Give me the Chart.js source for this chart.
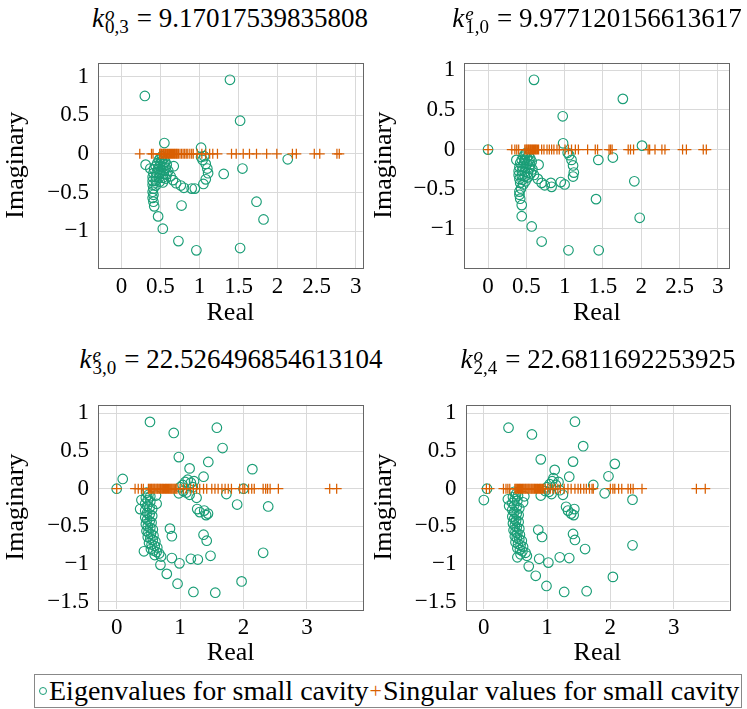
<!DOCTYPE html>
<html>
<head>
<meta charset="utf-8">
<script src="https://cdn.jsdelivr.net/npm/chart.js@4/dist/chart.umd.min.js"></script>
<style>
  body { margin: 0; background: #fff; width: 747px; height: 709px; position: relative; overflow: hidden; font-family: "Liberation Serif", serif; color: #000; }
  canvas { position: absolute; }
  .ttl { position: absolute; font-size: 27px; line-height: 27px; white-space: nowrap; transform: translateX(-50%); }
  .ttl .k { font-style: italic; }
  .sc { display: inline-block; vertical-align: -6px; font-size: 19px; line-height: 13px; margin-left: 1px; margin-right: 8px; }
  .sc span { display: block; }
  .sc .up { font-style: italic; }
  .legend { position: absolute; left: 34px; top: 674px; width: 706px; height: 32px; border: 1px solid #888; display: flex; align-items: center; font-size: 28px; white-space: nowrap; }
  .mk-c { display: inline-block; width: 6px; height: 6px; border: 1.2px solid #1b9e77; border-radius: 50%; margin: 0 2px 0 4px; }
  .mk-p { color: #d95f02; font-size: 22px; margin: 0 1px 0 1px; }
</style>
</head>
<body>
<canvas id="p1" width="373" height="292" style="left:0;top:40px"></canvas>
<canvas id="p2" width="379" height="292" style="left:368px;top:40px"></canvas>
<canvas id="p3" width="373" height="290" style="left:0;top:382px"></canvas>
<canvas id="p4" width="379" height="290" style="left:368px;top:382px"></canvas>
<div id="titles"></div>
<div class="legend">
  <span class="mk-c"></span><span>Eigenvalues for small cavity</span><span class="mk-p">+</span><span>Singular values for small cavity</span>
</div>
<script>
// ============ DATA ============
const GREEN = '#1b9e77';
const ORANGE = '#d95f02';

const titleSup = ['o', 'e', 'e', 'o'];
const titleSub = ['0,3', '1,0', '3,0', '2,4'];
const titleVal = ['9.17017539835808', '9.977120156613617', '22.526496854613104', '22.6811692253925'];

const xTicksTop = [0, 0.5, 1, 1.5, 2, 2.5, 3];
const yTicksTop = [-1, -0.5, 0, 0.5, 1];
const xTicksBottom = [0, 1, 2, 3];
const yTicksBottom = [-1.5, -1, -0.5, 0, 0.5, 1];

// eigenvalues [real, imag]
const eig1 = [
  [0.30, 0.75], [1.39, 0.96], [1.52, 0.43], [0.55, 0.14], [1.02, 0.08], [2.13, -0.07],
  [0.31, -0.14], [0.37, -0.19], [0.67, -0.16], [1.31, -0.26], [1.55, -0.19],
  [0.77, -0.67], [1.73, -0.62], [1.82, -0.85], [0.47, -0.81], [0.53, -0.97], [0.73, -1.13], [0.96, -1.25], [1.52, -1.22],
  [0.63, -0.29], [0.66, -0.34], [0.70, -0.38], [0.76, -0.41], [0.80, -0.44], [0.90, -0.45], [0.94, -0.45], [1.05, -0.39],
  [1.08, -0.33], [1.11, -0.25], [1.10, -0.19], [1.08, -0.13], [1.04, -0.08], [1.02, -0.04], [1.06, -0.03],
  [0.52, -0.03], [0.50, -0.05], [0.54, -0.06], [0.48, -0.08], [0.52, -0.09], [0.56, -0.10], [0.46, -0.12], [0.50, -0.12],
  [0.54, -0.13], [0.58, -0.14], [0.44, -0.16], [0.49, -0.16], [0.53, -0.17], [0.57, -0.18], [0.42, -0.20], [0.47, -0.20],
  [0.51, -0.21], [0.55, -0.22], [0.60, -0.22], [0.41, -0.25], [0.45, -0.25], [0.49, -0.26], [0.54, -0.26], [0.58, -0.27],
  [0.40, -0.30], [0.44, -0.30], [0.48, -0.31], [0.53, -0.31], [0.57, -0.32], [0.40, -0.35], [0.44, -0.35], [0.49, -0.36],
  [0.53, -0.37], [0.40, -0.40], [0.44, -0.41], [0.41, -0.45], [0.40, -0.49], [0.41, -0.53], [0.40, -0.57], [0.41, -0.62], [0.42, -0.68]
];
const eig2 = [
  [0.60, 0.88], [1.76, 0.64], [0.975, 0.42], [0.98, 0.08], [0, 0], [2.01, 0.05], [1.44, -0.13], [1.63, -0.10],
  [1.91, -0.40], [1.41, -0.625], [1.98, -0.86], [0.44, -0.84], [0.57, -0.97], [0.70, -1.16], [1.05, -1.27], [1.445, -1.27],
  [0.43, -0.49], [0.41, -0.53], [0.41, -0.57], [0.42, -0.62], [0.44, -0.70], [0.37, -0.13], [0.66, -0.19],
  [0.60, -0.32], [0.65, -0.37], [0.70, -0.42], [0.74, -0.45], [0.82, -0.42], [0.83, -0.47], [0.95, -0.41], [1.00, -0.44],
  [1.11, -0.34], [1.12, -0.29], [1.11, -0.20], [1.09, -0.13], [1.06, -0.07], [1.04, -0.04],
  [0.50, -0.04], [0.48, -0.06], [0.53, -0.07], [0.46, -0.09], [0.51, -0.10], [0.55, -0.11], [0.44, -0.13], [0.48, -0.13],
  [0.53, -0.14], [0.57, -0.15], [0.42, -0.17], [0.47, -0.17], [0.51, -0.18], [0.55, -0.19], [0.41, -0.22], [0.45, -0.22],
  [0.49, -0.23], [0.54, -0.24], [0.58, -0.25], [0.40, -0.27], [0.44, -0.27], [0.48, -0.28], [0.52, -0.29], [0.56, -0.30],
  [0.40, -0.32], [0.44, -0.33], [0.48, -0.34], [0.52, -0.35], [0.41, -0.37], [0.45, -0.38], [0.49, -0.40], [0.42, -0.42], [0.46, -0.44]
];
const eig3 = [
  [0.525, 0.887], [0.90, 0.74], [1.58, 0.81], [1.67, 0.54], [0.98, 0.42], [1.445, 0.355], [2.14, 0.26], [1.15, 0.27],
  [1.37, 0.16], [0.095, 0.13], [0, 0], [2.0, 0.0], [1.73, -0.07], [1.90, -0.21], [2.39, -0.235],
  [1.0, 0.02], [1.04, 0.05], [1.08, 0.09], [1.12, 0.12], [1.17, 0.08], [1.22, 0.10], [1.05, -0.03], [1.10, -0.05],
  [1.15, -0.08], [0.98, -0.06], [1.26, -0.12], [1.20, 0.02],
  [1.27, -0.27], [1.31, -0.31], [1.38, -0.29], [1.41, -0.35], [1.44, -0.33],
  [1.37, -0.61], [1.42, -0.69], [0.84, -0.53], [0.87, -0.63], [2.31, -0.85], [1.48, -0.89], [1.17, -0.93], [1.28, -0.94],
  [0.99, -0.99], [0.87, -0.92], [0.69, -1.01], [0.79, -1.13], [0.96, -1.26], [1.21, -1.37], [1.555, -1.38], [1.97, -1.23],
  [0.43, -0.83], [0.39, -0.15], [0.37, -0.27], [0.63, -0.2], [0.62, -0.09],
  [0.47, -0.05], [0.50, -0.08], [0.53, -0.10], [0.46, -0.12], [0.49, -0.15], [0.53, -0.17], [0.45, -0.20], [0.48, -0.23],
  [0.52, -0.25], [0.56, -0.27], [0.45, -0.29], [0.48, -0.32], [0.52, -0.34], [0.56, -0.36], [0.45, -0.38], [0.48, -0.41],
  [0.52, -0.43], [0.55, -0.45], [0.46, -0.47], [0.49, -0.50], [0.53, -0.52], [0.57, -0.54], [0.47, -0.56], [0.50, -0.58],
  [0.54, -0.60], [0.58, -0.62], [0.49, -0.64], [0.53, -0.66], [0.57, -0.68], [0.61, -0.70], [0.51, -0.72], [0.55, -0.74],
  [0.60, -0.76], [0.64, -0.78], [0.54, -0.80], [0.58, -0.82], [0.63, -0.84], [0.67, -0.86], [0.60, -0.88], [0.70, -0.90]
];
const eig4 = [
  [0.39, 0.81], [0.76, 0.72], [1.44, 0.89], [1.57, 0.565], [0.90, 0.39], [1.41, 0.36], [2.07, 0.33], [1.97, 0.165],
  [1.12, 0.25], [1.35, 0.16], [1.73, 0.05], [0.05, 0.0], [0.0, -0.15], [1.91, -0.06], [2.35, -0.145], [1.25, -0.08], [0.90, -0.09],
  [1.0, 0.02], [1.04, 0.06], [1.08, 0.10], [1.10, 0.14], [1.14, 0.05], [1.18, 0.09], [1.03, -0.04], [1.07, -0.07],
  [0.97, -0.03], [1.20, -0.02],
  [1.30, -0.24], [1.33, -0.29], [1.38, -0.33], [1.43, -0.27], [1.42, -0.35],
  [0.86, -0.545], [0.92, -0.64], [1.41, -0.60], [1.44, -0.68], [1.60, -0.80], [2.35, -0.75], [1.20, -0.91], [1.35, -0.92],
  [0.875, -0.93], [1.02, -0.98], [0.71, -1.03], [0.53, -0.91], [0.82, -1.155], [0.99, -1.29], [1.27, -1.37], [1.625, -1.36],
  [2.04, -1.17], [0.38, -0.14], [0.40, -0.23], [0.62, -0.18], [0.64, -0.10],
  [0.48, -0.04], [0.51, -0.07], [0.54, -0.09], [0.46, -0.11], [0.49, -0.14], [0.53, -0.16], [0.45, -0.19], [0.48, -0.22],
  [0.52, -0.24], [0.56, -0.26], [0.45, -0.28], [0.48, -0.31], [0.52, -0.33], [0.55, -0.35], [0.45, -0.37], [0.48, -0.40],
  [0.51, -0.42], [0.55, -0.44], [0.46, -0.46], [0.49, -0.49], [0.52, -0.51], [0.56, -0.53], [0.47, -0.55], [0.50, -0.57],
  [0.53, -0.59], [0.57, -0.61], [0.49, -0.63], [0.52, -0.65], [0.56, -0.67], [0.60, -0.69], [0.50, -0.71], [0.54, -0.73],
  [0.58, -0.75], [0.62, -0.77], [0.53, -0.79], [0.57, -0.81], [0.61, -0.83], [0.66, -0.85], [0.58, -0.87], [0.68, -0.89]
];

// singular values (all on the real axis)
const sing1 = [0.235, 0.385, 0.405, 0.49, 0.505, 0.515, 0.53, 0.54, 0.555, 0.565, 0.58, 0.59, 0.605, 0.615, 0.63, 0.64,
  0.655, 0.665, 0.68, 0.69, 0.705, 0.715, 0.73, 0.75, 0.77, 0.79, 0.81, 0.83, 0.85, 0.876, 0.90, 0.92, 0.97, 1.03,
  1.08, 1.13, 1.17, 1.23, 1.41, 1.47, 1.56, 1.64, 1.73, 1.86, 1.99, 2.19, 2.24, 2.47, 2.54, 2.76, 2.79];
const sing2 = [0.0, 0.31, 0.35, 0.375, 0.40, 0.48, 0.495, 0.505, 0.52, 0.53, 0.545, 0.555, 0.57, 0.58, 0.595, 0.605,
  0.62, 0.63, 0.645, 0.66, 0.70, 0.73, 0.77, 0.80, 0.83, 0.86, 0.90, 0.93, 1.005, 1.05, 1.09, 1.14, 1.18, 1.30,
  1.40, 1.43, 1.58, 1.60, 1.62, 1.83, 1.86, 1.90, 2.09, 2.11, 2.18, 2.27, 2.31, 2.54, 2.59, 2.81, 2.85];
const sing3 = [0.0, 0.29, 0.34, 0.39, 0.42, 0.50, 0.513, 0.53, 0.546, 0.558, 0.575, 0.59, 0.602, 0.62, 0.636, 0.648,
  0.665, 0.68, 0.693, 0.71, 0.725, 0.738, 0.755, 0.77, 0.784, 0.80, 0.816, 0.83, 0.845, 0.86, 0.874, 0.89, 0.906,
  0.92, 0.934, 0.95, 1.0, 1.05, 1.10, 1.16, 1.21, 1.26, 1.31, 1.37, 1.42, 1.50, 1.55, 1.60, 1.66, 1.71, 1.76, 1.81,
  1.94, 1.99, 2.02, 2.08, 2.13, 2.17, 2.31, 2.35, 2.38, 2.42, 2.55, 3.36, 3.47];
const sing4 = [0.04, 0.09, 0.31, 0.35, 0.38, 0.41, 0.49, 0.505, 0.52, 0.534, 0.55, 0.565, 0.578, 0.594, 0.61, 0.623,
  0.638, 0.655, 0.668, 0.684, 0.70, 0.713, 0.728, 0.745, 0.758, 0.774, 0.79, 0.803, 0.818, 0.835, 0.848, 0.864,
  0.88, 0.893, 0.908, 0.925, 0.94, 0.97, 1.01, 1.05, 1.09, 1.13, 1.17, 1.21, 1.27, 1.33, 1.38, 1.44, 1.49, 1.53,
  1.58, 1.62, 1.67, 1.71, 1.73, 2.0, 2.04, 2.07, 2.13, 2.18, 2.28, 2.32, 2.36, 2.50, 3.36, 3.50];

// axis limits per panel
const xMin = [-0.30, -0.31, -0.295, -0.29];
const xMax = [3.09, 3.15, 3.89, 3.88];
const yMin = [-1.475, -1.49, -1.6, -1.6];
const yMax = [1.18, 1.095, 1.114, 1.114];

// ============ TITLES ============
const titleX = [230, 597, 231, 598];
const titleY = [5, 5, 346, 346];
const tHost = document.getElementById('titles');
titleVal.forEach((v, i) => {
  const d = document.createElement('div');
  d.className = 'ttl';
  d.style.left = titleX[i] + 'px';
  d.style.top = titleY[i] + 'px';
  d.innerHTML = `<span class="k">k</span><span class="sc"><span class="up">${titleSup[i]}</span><span>${titleSub[i]}</span></span>= ${v}`;
  tHost.appendChild(d);
});

// ============ CHARTS ============
const frame = {
  id: 'frame',
  beforeDatasetsDraw(chart) {
    const a = chart.chartArea, c = chart.ctx;
    c.save();
    c.strokeStyle = '#666';
    c.lineWidth = 1;
    c.strokeRect(Math.round(a.left) + 0.5, Math.round(a.top) + 0.5, Math.round(a.right - a.left), Math.round(a.bottom - a.top));
    c.restore();
  }
};

const fmt = v => (v < 0 ? '\u2212' + Math.abs(v) : String(v));

function makePanel(id, i, eig, sing, xt, yt, yw, xh, pad) {
  new Chart(document.getElementById(id), {
    type: 'scatter',
    data: {
      datasets: [
        { label: 'Singular values for small cavity', data: sing.map(x => ({ x, y: 0 })),
          pointStyle: 'cross', pointRadius: 5, pointBorderColor: ORANGE, pointBorderWidth: 1.25 },
        { label: 'Eigenvalues for small cavity', data: eig.map(p => ({ x: p[0], y: p[1] })),
          pointStyle: 'circle', pointRadius: 4.8, pointBorderColor: GREEN, pointBackgroundColor: 'rgba(0,0,0,0)', pointBorderWidth: 1.15 }
      ]
    },
    options: {
      animation: false,
      responsive: false,
      events: [],
      layout: { padding: pad },
      plugins: { legend: { display: false }, tooltip: { enabled: false } },
      scales: {
        x: {
          type: 'linear', min: xMin[i], max: xMax[i],
          afterBuildTicks: s => { s.ticks = xt.map(v => ({ value: v })); },
          afterFit: s => { s.height = xh; },
          grid: { color: '#d9d9d9', drawTicks: false },
          border: { display: false },
          ticks: { color: '#000', font: { family: 'Liberation Serif', size: 23 }, padding: 5, maxRotation: 0, autoSkip: false, callback: fmt },
          title: { display: true, text: 'Real', color: '#000', font: { family: 'Liberation Serif', size: 26 }, padding: { top: 0, bottom: 3 } }
        },
        y: {
          type: 'linear', min: yMin[i], max: yMax[i],
          afterBuildTicks: s => { s.ticks = yt.map(v => ({ value: v })); },
          afterFit: s => { s.width = yw; },
          grid: { color: '#d9d9d9', drawTicks: false },
          border: { display: false },
          ticks: { color: '#000', font: { family: 'Liberation Serif', size: 23 }, padding: 9, autoSkip: false, callback: fmt },
          title: { display: true, text: 'Imaginary', color: '#000', font: { family: 'Liberation Serif', size: 26 }, padding: { top: 1, bottom: 0 } }
        }
      }
    },
    plugins: [frame]
  });
}

makePanel('p1', 0, eig1, sing1, xTicksTop, yTicksTop, 98, 64.3, { top: 7.3, right: 10.3, left: 0, bottom: 0 });
makePanel('p2', 1, eig2, sing2, xTicksTop, yTicksTop, 96.3, 64.3, { top: 7.3, right: 17.7, left: 0, bottom: 0 });
makePanel('p3', 2, eig3, sing3, xTicksBottom, yTicksBottom, 98, 62.7, { top: 8, right: 9.7, left: 0, bottom: 0 });
makePanel('p4', 3, eig4, sing4, xTicksBottom, yTicksBottom, 97.5, 62.7, { top: 8, right: 17.7, left: 0, bottom: 0 });
</script>
</body>
</html>
